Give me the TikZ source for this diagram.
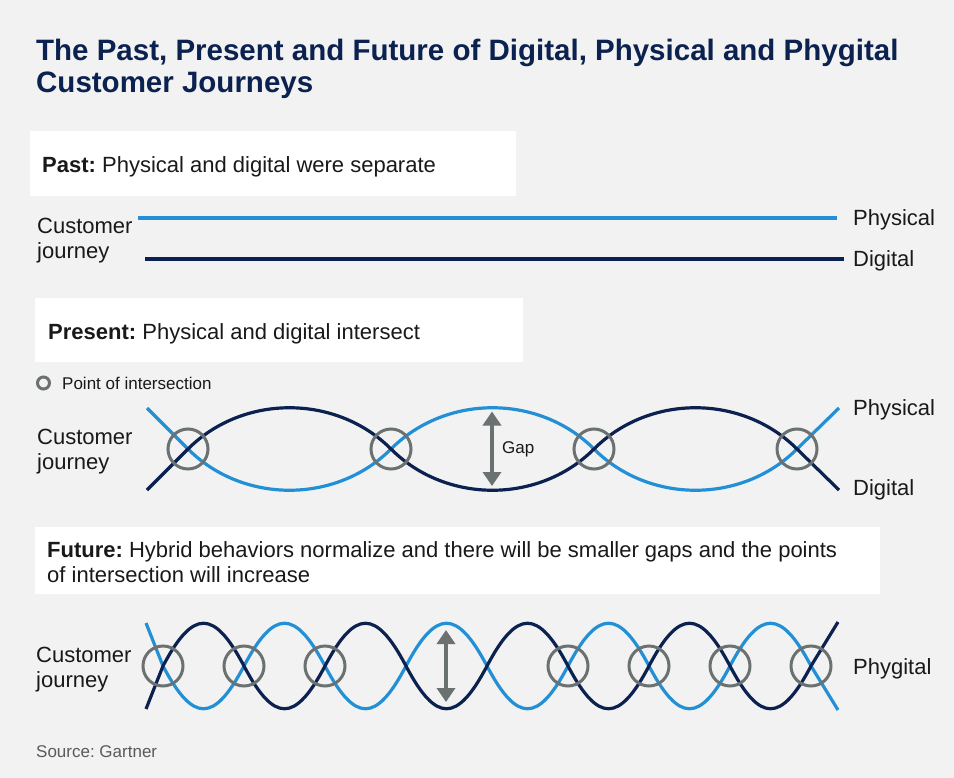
\documentclass[tikz,border=0pt]{standalone}
\usepackage{fontspec}
\setmainfont{Liberation Sans}
\usetikzlibrary{arrows.meta}
\frenchspacing

\definecolor{bgcol}{HTML}{F2F2F2}
\definecolor{navy}{HTML}{0B2150}
\definecolor{skyblue}{HTML}{2390D5}
\definecolor{ringgray}{HTML}{6B7171}
\definecolor{srcgray}{HTML}{5A5A5A}

\begin{document}
\begin{tikzpicture}[
    x=1bp, y=-1bp,
    hdrbox/.style={fill=white, inner sep=0pt, anchor=north west},
    hdrtext/.style={inner sep=0pt, anchor=base west, font=\fontsize{22bp}{25bp}\selectfont, text=black!90},
    cjlabel/.style={inner sep=0pt, anchor=north west, align=left, font=\fontsize{22bp}{25bp}\selectfont, text=black!90},
    endlabel/.style={inner sep=0pt, anchor=base west, font=\fontsize{22bp}{25bp}\selectfont, text=black!90},
    phys/.style={skyblue, line width=3.2bp},
    digi/.style={navy, line width=3.2bp},
    ring/.style={circle, draw=ringgray, line width=3bp, minimum size=40bp, inner sep=0pt},
    gaparrow/.style={{Triangle[width=18bp,length=14bp]}-{Triangle[width=18bp,length=14bp]}, ringgray, line width=4bp},
    small/.style={inner sep=0pt, font=\fontsize{17bp}{20bp}\selectfont, text=black!90}
]
\fill[bgcol] (0,0) rectangle (954,778);

\node[inner sep=0pt, anchor=north west, align=left, text=navy, font=\fontsize{29.5bp}{32bp}\selectfont\bfseries] (title) at (36,38.5) {The Past, Present and Future of Digital, Physical and Phygital\\Customer Journeys};

\node[hdrbox, minimum width=486bp, minimum height=65bp] (pastbox) at (30,131) {};
\node[hdrtext] (pasttxt) at (42,172) {\textbf{Past:} Physical and digital were separate};
\node[cjlabel] (pastcj) at (37,218) {Customer\\journey};
\draw[skyblue, line width=4bp] (138,217.5) -- (837,217.5);
\draw[navy, line width=3.6bp] (145,259) -- (844,259);
\node[endlabel] (pastphys) at (853,225) {Physical};
\node[endlabel] (pastdigi) at (853,266.5) {Digital};

\node[hdrbox, minimum width=488bp, minimum height=64bp] (presbox) at (35,298) {};
\node[hdrtext] (prestxt) at (48,339) {\textbf{Present:} Physical and digital intersect};
\node[ring, minimum size=12bp, line width=3bp] (legring) at (43.5,383) {};
\node[small, anchor=base west] (legtxt) at (62,389) {Point of intersection};
\node[cjlabel] (prescj) at (37,429) {Customer\\journey};

\draw[phys] (147,408) -- (188,449)
  \foreach \xa/\s in {188/1,391/-1,594/1} { .. controls ({\xa+55},{449+55*\s}) and ({\xa+148},{449+55*\s}) .. ({\xa+203},449) }
  -- (839,408);
\draw[digi] (147,490) -- (188,449)
  \foreach \xa/\s in {188/-1,391/1,594/-1} { .. controls ({\xa+55},{449+55*\s}) and ({\xa+148},{449+55*\s}) .. ({\xa+203},449) }
  -- (839,490);
\foreach \x in {188,391,594,797}
  \node[ring] (pring\x) at (\x,449) {};
\coordinate (presgaptop) at (492,411.5);
\coordinate (presgapbot) at (492,486);
\draw[gaparrow] (presgaptop) -- (presgapbot);
\node[small, anchor=west] (gaptxt) at (502,449) {Gap};
\node[endlabel] (presphys) at (853,415) {Physical};
\node[endlabel] (presdigi) at (853,495) {Digital};

\node[hdrbox, minimum width=845bp, minimum height=67bp] (futbox) at (35,527) {};
\node[hdrtext, anchor=north west, align=left] (futtxt) at (47,541) {\textbf{Future:} Hybrid behaviors normalize and there will be smaller gaps and the points\\of intersection will increase};
\node[cjlabel] (futcj) at (36,647) {Customer\\journey};

\draw[phys] (146,623) -- (163,666)
  \foreach \k [evaluate=\k as \xa using {163+81*\k}, evaluate=\k as \s using {1-2*mod(\k,2)}] in {0,...,7}
    { .. controls ({\xa+30},{666+57*\s}) and ({\xa+51},{666+57*\s}) .. ({\xa+81},666) }
  -- (838,710);
\draw[digi] (146,709) -- (163,666)
  \foreach \k [evaluate=\k as \xa using {163+81*\k}, evaluate=\k as \s using {1-2*mod(\k,2)}] in {0,...,7}
    { .. controls ({\xa+30},{666-57*\s}) and ({\xa+51},{666-57*\s}) .. ({\xa+81},666) }
  -- (838,622);
\foreach \x in {163,244,325,568,649,730,811}
  \node[ring] (fring\x) at (\x,666) {};
\coordinate (futgaptop) at (446,630);
\coordinate (futgapbot) at (446,702);
\draw[gaparrow] (futgaptop) -- (futgapbot);
\node[endlabel] (futphy) at (853,674) {Phygital};

\node[small, anchor=base west, text=srcgray] (src) at (36,757) {Source: Gartner};
\end{tikzpicture}
\end{document}
